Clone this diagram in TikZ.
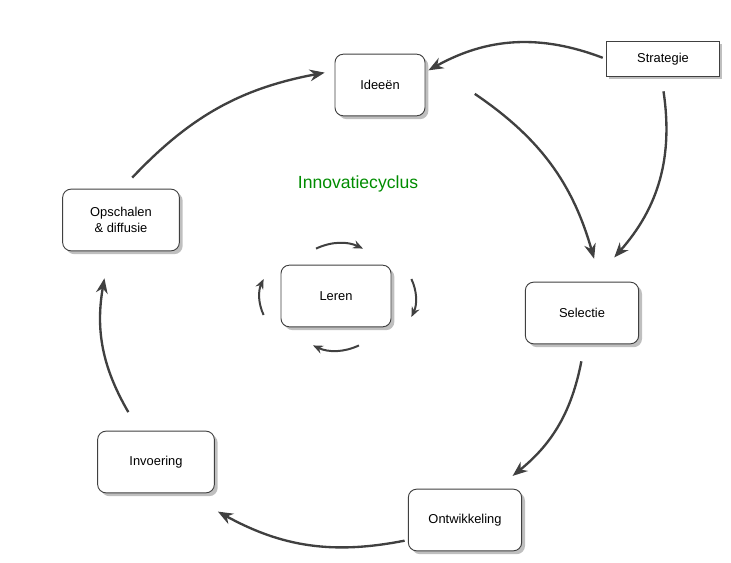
\documentclass[tikz,border=0pt]{standalone}
\usepackage{fontspec}
\setmainfont{Liberation Sans}
\usetikzlibrary{shadows, arrows.meta}
\tikzset{
    normal/.style={draw=black!75, thick},
    box/.style={style=normal, fill=white, rounded corners=2.5mm, minimum width=3.3cm, minimum height=1.85cm, align=center, font=\fontsize{11}{13}\selectfont, drop shadow={shadow xshift=1mm, shadow yshift=-1mm, opacity=0.5}},
    sbox/.style={style=normal, fill=white, minimum width=3.4cm, minimum height=1.05cm, font=\fontsize{11}{13}\selectfont, drop shadow={shadow xshift=0.8mm, shadow yshift=-0.8mm, opacity=0.5}},
    e/.style={draw=black!75, line width=2pt, shorten >=1mm, shorten <=1mm, -{Stealth[length=4.5mm, width=3.5mm]}}, % cycle arrows
    se/.style={style=e, line width=1.7pt, -{Stealth[length=3mm, width=2.5mm]}} % small learning arrows
}
\begin{document}
\begin{tikzpicture}[x=0.03cm, y=-0.03cm]
        \useasboundingbox (0,0) rectangle (731,563);
        \node[box, minimum width=2.7cm] (ID) at (380,85) {Ideeën};
        \node[sbox] (ST) at (663,59) {Strategie};
        \node[box, minimum width=3.4cm] (SE) at (582,313) {Selectie};
        \node[box, minimum width=3.4cm] (ON) at (465,520) {Ontwikkeling};
        \node[box, minimum width=3.5cm] (IN) at (156,462) {Invoering};
        \node[box, minimum width=3.5cm] (OP) at (121,220) {Opschalen\\\& diffusie};
        \node[box, minimum width=3.3cm] (LE) at (336,296) {Leren};
        \node[text=green!55!black, font=\fontsize{15}{18}\selectfont] (TI) at (358,184) {Innovatiecyclus};

        \coordinate (S1) at (663,88);   \coordinate (S2) at (612,260);
        \coordinate (I1) at (472,92);   \coordinate (I2) at (595,262);
        \coordinate (O1) at (510,478);
        \draw[e] (ST.west) to[bend right=25] (ID.east |- 0,72);
        \draw[e] (S1) to[bend left=25] (S2);
        \draw[e] (I1) to[bend left=20] (I2);
        \draw[e] (SE.south |- 0,358) to[bend left=20] (O1);
        \draw[e] (ON.west |- 0,540) to[bend left=20] (215,510);
        \draw[e] (130,415) to[bend left=20] (105,275);
        \draw[e] (130,180) to[bend left=18] (328,72);

        \coordinate (L1) at (313,250); \coordinate (L2) at (366,250);
        \coordinate (L3) at (410,276); \coordinate (L4) at (410,320);
        \coordinate (L5) at (362,344); \coordinate (L6) at (310,344);
        \coordinate (L7) at (265,318); \coordinate (L8) at (265,276);
        \draw[se] (L1) to[bend left=25] (L2);
        \draw[se] (L3) to[bend left=25] (L4);
        \draw[se] (L5) to[bend left=25] (L6);
        \draw[se] (L7) to[bend left=25] (L8);
\end{tikzpicture}
\end{document}
